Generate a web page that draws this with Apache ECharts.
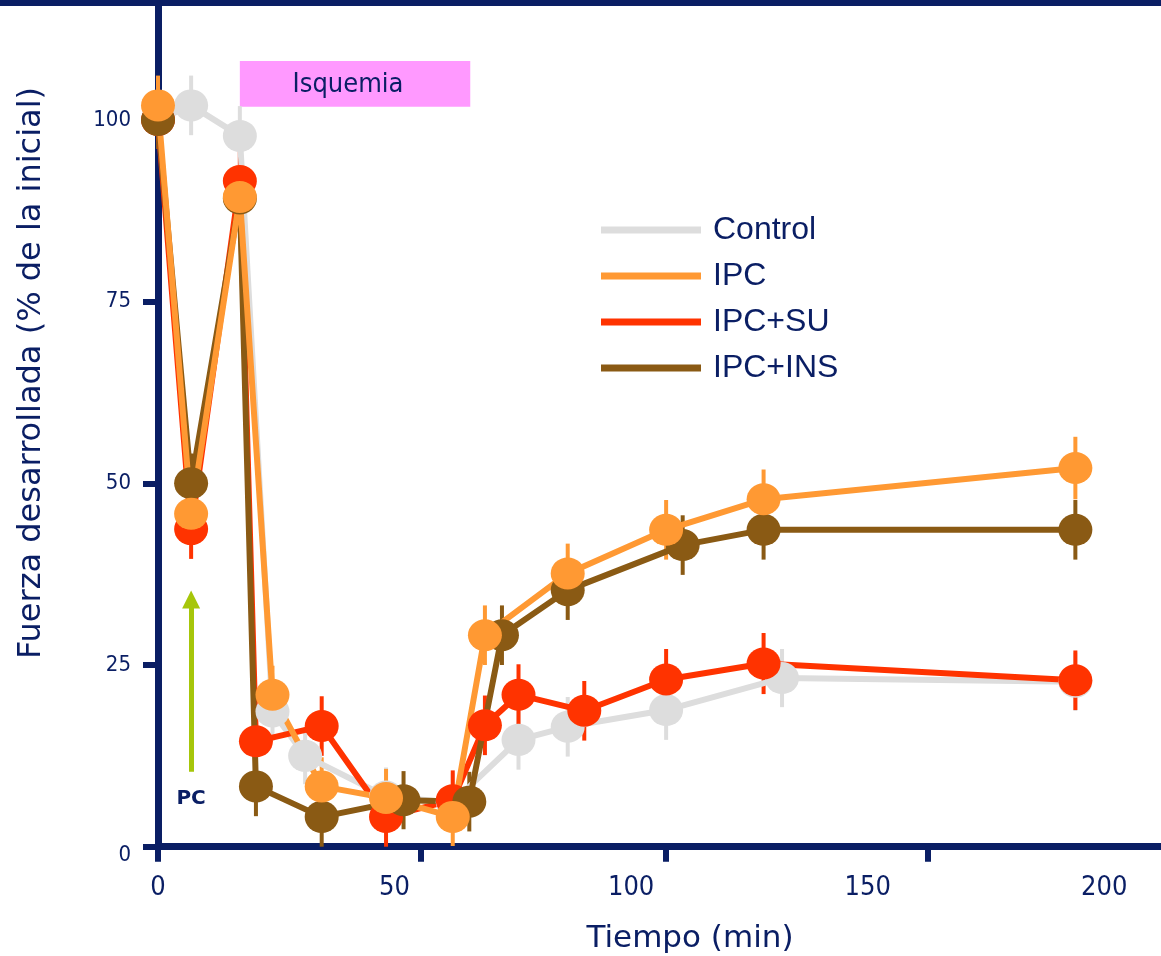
<!DOCTYPE html>
<html>
<head>
<meta charset="utf-8">
<script src="https://cdn.jsdelivr.net/npm/echarts@6/dist/echarts.min.js"></script>
<style>
  html, body { margin: 0; padding: 0; background: #ffffff; }
  #chart { width: 1161px; height: 956px; }
</style>
</head>
<body>
<div id="chart"></div>
<script>
// Fuerza desarrollada (% de la inicial) frente al tiempo, media ± error
const controlTime  = [0, 7, 17.3, 24.2, 31.1, 48.2, 62.3, 76.2, 86.6, 107.4, 131.9, 193.9];
const controlForce = [100, 102, 97.8, 18.6, 12.5, 6.9, 6.1, 14.7, 16.5, 18.8, 23.2, 22.7];
const controlErr   = [4.0, 4.1, 4.1, 4.0, 3.9, 4.0, 4.0, 4.1, 4.1, 4.1, 4.0, 4.0];

const ipcTime  = [0, 7, 17.3, 24.2, 34.6, 48.2, 62.3, 69.1, 86.6, 107.4, 128.0, 193.9];
const ipcForce = [102, 45.8, 89.4, 20.9, 8.3, 6.7, 4.1, 29.1, 37.6, 43.6, 47.8, 52.1];
const ipcErr   = [4.1, 4.2, 4.2, 4.0, 4.0, 4.0, 4.0, 4.1, 4.1, 4.1, 4.1, 4.3];

const ipcSuTime  = [0, 7, 17.3, 20.7, 34.6, 48.2, 62.3, 69.1, 76.2, 90.1, 107.4, 128.0, 193.9];
const ipcSuForce = [100, 43.7, 91.6, 14.5, 16.6, 4.1, 6.4, 16.7, 20.9, 18.7, 23.0, 25.2, 22.9];
const ipcSuErr   = [4.0, 4.1, 4.3, 4.1, 4.1, 4.1, 4.1, 4.1, 4.2, 4.1, 4.2, 4.2, 4.1];

const ipcInsTime  = [0, 7, 17.3, 20.7, 34.6, 51.9, 65.8, 72.7, 86.6, 110.9, 128.0, 193.9];
const ipcInsForce = [100, 50, 89.2, 8.3, 4.1, 6.4, 6.2, 29.1, 35.3, 41.5, 43.6, 43.6];
const ipcInsErr   = [4.0, 4.1, 4.0, 4.1, 4.1, 4.0, 4.1, 4.1, 4.1, 4.1, 4.1, 4.1];

// Axes
const xLabelValues = [0, 50, 100, 150, 200];
const xTickMarks   = [0, 55.5, 107.3, 162.7];
const yTickValues  = [0, 25, 50, 75, 100];

// Ischemia period band and preconditioning arrow (axis units)
const isquemiaTime  = [17.3, 66.0];
const isquemiaRange = [101.8, 108.1];
const pcTime  = 7;
const pcArrow = [10.3, 34.0];

const NAVY = '#0a1e64';
const COLORS = {
  'Control': '#dddddd',
  'IPC':     '#ff9933',
  'IPC+SU':  '#ff3300',
  'IPC+INS': '#8a5a14'
};
const LEGEND_ORDER = ['Control', 'IPC', 'IPC+SU', 'IPC+INS'];
const COND_FONT = '"DejaVu Sans Condensed", "DejaVu Sans", sans-serif';

function lineSeries(name, time, force, extra) {
  return Object.assign({
    name: name,
    type: 'line',
    data: time.map((t, i) => [t, force[i]]),
    symbol: 'circle',
    symbolSize: [34, 32],
    showAllSymbol: true,
    lineStyle: { color: COLORS[name], width: 6 },
    itemStyle: { color: COLORS[name] },
    emphasis: { disabled: true },
    silent: true
  }, extra || {});
}

function errorSeries(name, time, force, err) {
  const color = COLORS[name];
  return {
    type: 'custom',
    data: time.map((t, i) => [t, force[i] - err[i], force[i] + err[i]]),
    encode: { x: 0, y: [1, 2] },
    silent: true,
    renderItem: function (params, api) {
      const lo = api.coord([api.value(0), api.value(1)]);
      const hi = api.coord([api.value(0), api.value(2)]);
      return {
        type: 'line',
        shape: { x1: lo[0], y1: lo[1], x2: hi[0], y2: hi[1] },
        style: { stroke: color, lineWidth: 4 }
      };
    }
  };
}

const chart = echarts.init(document.getElementById('chart'), null, { renderer: 'canvas' });

chart.setOption({
  animation: false,
  backgroundColor: '#ffffff',
  grid: { left: 158, right: 0, top: 0, bottom: 109.3, containLabel: false },
  xAxis: {
    type: 'value',
    min: 0,
    max: 212,
    splitLine: { show: false },
    axisLine: { show: true, onZero: false, lineStyle: { color: NAVY, width: 7 } },
    axisTick: { show: true, customValues: xTickMarks, length: 15, lineStyle: { color: NAVY, width: 6 } },
    axisLabel: {
      customValues: xLabelValues,
      margin: 28,
      color: NAVY,
      fontSize: 27,
      fontFamily: COND_FONT
    }
  },
  yAxis: {
    type: 'value',
    min: 0,
    max: 116.5,
    splitLine: { show: false },
    axisLine: { show: true, lineStyle: { color: NAVY, width: 7 } },
    axisTick: { show: true, customValues: yTickValues, length: 15, lineStyle: { color: NAVY, width: 6 } },
    axisLabel: {
      customValues: yTickValues,
      margin: 27,
      color: NAVY,
      fontSize: 22,
      fontFamily: COND_FONT,
      formatter: function (v) { return v === 0 ? '{low|0}' : String(v); },
      rich: {
        low: { padding: [18, 0, 0, 0], color: NAVY, fontSize: 22, fontFamily: COND_FONT }
      }
    }
  },
  legend: {
    data: LEGEND_ORDER,
    orient: 'vertical',
    left: 601,
    top: 212,
    padding: 0,
    icon: 'rect',
    itemWidth: 100,
    itemHeight: 7,
    itemGap: 10,
    selectedMode: false,
    textStyle: {
      color: NAVY,
      fontFamily: '"Liberation Sans", Arial, sans-serif',
      fontSize: 32,
      lineHeight: 36,
      padding: [0, 0, 0, 7]
    }
  },
  graphic: [
    { type: 'rect', x: 0, y: 0, z: 100, shape: { width: 1161, height: 6 }, style: { fill: NAVY } },
    {
      type: 'text', x: 32, y: 373, rotation: Math.PI / 2,
      style: {
        text: 'Fuerza desarrollada (% de la inicial)',
        font: '32px "DejaVu Sans"',
        fill: NAVY, align: 'center', verticalAlign: 'middle'
      }
    },
    {
      type: 'text', x: 690, y: 939,
      style: {
        text: 'Tiempo (min)',
        font: '31px "DejaVu Sans"',
        fill: NAVY, align: 'center', verticalAlign: 'middle'
      }
    }
  ],
  series: [
    lineSeries('Control', controlTime, controlForce, {
      markArea: {
        silent: true,
        itemStyle: { color: '#ff99ff', opacity: 1 },
        label: {
          show: true, position: 'inside', offset: [-7, 1],
          color: NAVY, fontSize: 27, fontFamily: COND_FONT
        },
        data: [[
          { name: 'Isquemia', xAxis: isquemiaTime[0], yAxis: isquemiaRange[0] },
          { xAxis: isquemiaTime[1], yAxis: isquemiaRange[1] }
        ]]
      },
      markLine: {
        silent: true,
        symbol: ['none', 'triangle'],
        symbolSize: 18,
        lineStyle: { color: '#a6c60a', width: 5, type: 'solid' },
        label: {
          show: true, position: 'start', distance: 17,
          formatter: 'PC', color: NAVY, fontSize: 20, fontWeight: 'bold',
          fontFamily: '"DejaVu Sans", sans-serif'
        },
        emphasis: { disabled: true },
        data: [[
          { coord: [pcTime, pcArrow[0]] },
          { coord: [pcTime, pcArrow[1]] }
        ]]
      }
    }),
    errorSeries('Control', controlTime, controlForce, controlErr),
    lineSeries('IPC+SU', ipcSuTime, ipcSuForce),
    errorSeries('IPC+SU', ipcSuTime, ipcSuForce, ipcSuErr),
    lineSeries('IPC+INS', ipcInsTime, ipcInsForce),
    errorSeries('IPC+INS', ipcInsTime, ipcInsForce, ipcInsErr),
    lineSeries('IPC', ipcTime, ipcForce),
    errorSeries('IPC', ipcTime, ipcForce, ipcErr)
  ]
});
</script>
</body>
</html>
